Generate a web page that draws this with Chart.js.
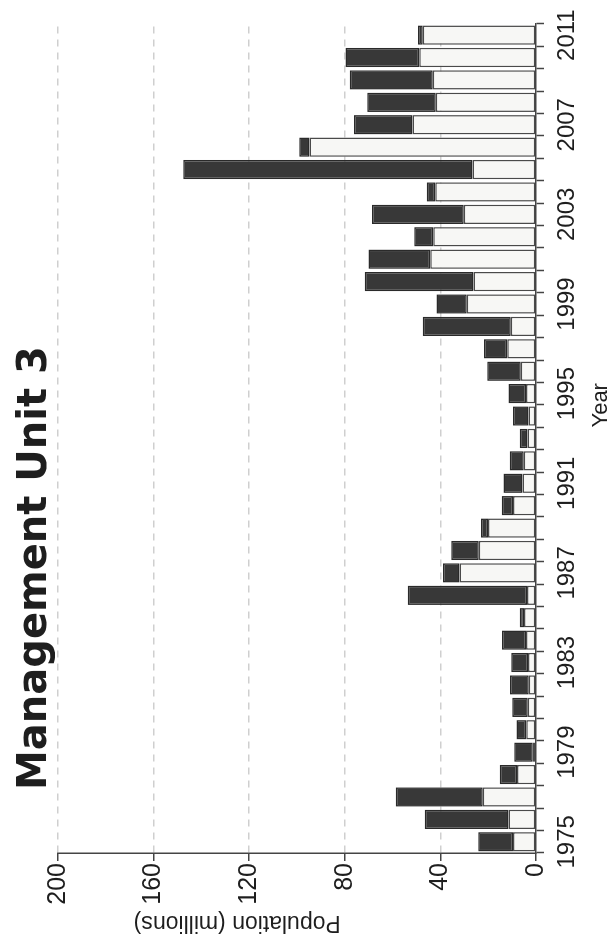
<!DOCTYPE html>
<html>
<head>
<meta charset="utf-8">
<script src="https://cdn.jsdelivr.net/npm/chart.js@4/dist/chart.umd.min.js"></script>
<style>
  html, body { margin: 0; padding: 0; background: #fff; width: 612px; height: 934px; overflow: hidden; }
  /* the figure is laid out landscape and turned a quarter turn to the left */
  #frame { position: absolute; left: 0; top: 0; width: 934px; height: 612px;
           transform-origin: 0 0; transform: translate(0, 934px) rotate(-90deg); }
</style>
</head>
<body>
<div id="frame"><canvas id="chart" width="934" height="612"></canvas></div>
<script>
// Survey years
const years = [1975,1976,1977,1978,1979,1980,1981,1982,1983,1984,1985,1986,1987,1988,1989,1990,
               1991,1992,1993,1994,1995,1996,1997,1998,1999,2000,2001,2002,2003,2004,2005,2006,
               2007,2008,2009,2010,2011];
// Lower (light) segment of each bar, millions
const lowerPart = [9.6,11.5,22.3,8.0,1.4,4.1,3.5,3.0,3.3,4.2,5.0,3.8,32.0,24.0,20.1,9.6,
                   5.6,5.1,3.6,3.1,4.2,6.4,12.0,10.6,29.0,26.2,44.2,43.0,30.2,42.2,26.6,94.8,
                   51.7,41.9,43.2,48.9,47.4];
// Upper (dark) segment stacked on top, millions
const upperPart = [14.6,35.0,36.4,7.2,7.7,4.1,6.4,7.9,7.1,10.0,1.8,49.9,6.9,11.5,2.9,4.7,
                   8.0,5.9,3.2,6.5,7.3,14.0,9.8,36.8,12.6,45.5,25.9,7.9,38.4,3.5,121.0,4.3,
                   24.5,28.7,34.7,30.8,2.0];
// Years that carry a label on the year axis
const labelledYears = [1975,1979,1983,1987,1991,1995,1999,2003,2007,2011];
// Population axis ticks
const popTicks = [0,40,80,120,160,200];

const titleText = 'Management Unit 3';
const popCaption = 'Population (millions)';
const yearCaption = 'Year';

const ink = '#1e1e1e';

// Main heading and the two axis captions
const captions = {
  id: 'captions',
  afterDraw(chart) {
    const { ctx, scales, chartArea } = chart;
    ctx.save();
    ctx.fillStyle = ink;
    ctx.font = 'bold 40px "DejaVu Sans"';
    ctx.textAlign = 'left';
    ctx.textBaseline = 'middle';
    ctx.fillText(titleText, 144, 36);

    ctx.font = '22px "Liberation Sans"';
    ctx.textAlign = 'center';
    ctx.textBaseline = 'alphabetic';
    ctx.fillText(yearCaption, chartArea.left + (chartArea.right - chartArea.left) * 0.54, 607);

    ctx.font = '23px "Liberation Sans"';
    ctx.textBaseline = 'middle';
    ctx.translate(12, scales.y.getPixelForValue(125));
    ctx.rotate(-Math.PI / 2);
    ctx.fillText(popCaption, 0, 0);
    ctx.restore();
  }
};

new Chart(document.getElementById('chart'), {
  type: 'bar',
  data: {
    labels: years.map(String),
    datasets: [
      { label: 'Lower', data: lowerPart, backgroundColor: '#f7f7f5', borderColor: '#4a4a4a',
        borderWidth: 1.5, borderSkipped: false, barPercentage: 0.86, categoryPercentage: 1 },
      { label: 'Upper', data: upperPart, backgroundColor: '#383838', borderColor: '#2a2a2a',
        borderWidth: 1.5, borderSkipped: false, barPercentage: 0.86, categoryPercentage: 1 }
    ]
  },
  options: {
    responsive: false,
    animation: false,
    devicePixelRatio: 1,
    layout: { padding: { top: 58, right: 22, left: 0, bottom: 0 } },
    plugins: { legend: { display: false }, tooltip: { enabled: false }, title: { display: false } },
    scales: {
      x: {
        stacked: true,
        offset: true,
        afterFit(s) { s.height = 76; },
        grid: { offset: true, drawOnChartArea: false, drawTicks: true, tickLength: 8,
                tickColor: '#444', tickWidth: 1.5 },
        border: { display: true, color: '#444', width: 1.5 },
        ticks: {
          autoSkip: false, maxRotation: 0, minRotation: 0, padding: 9,
          color: ink, font: { family: '"Liberation Sans"', size: 24 },
          callback(v, i) { return labelledYears.includes(years[i]) ? String(years[i]) : ''; }
        },
        title: { display: false }
      },
      y: {
        stacked: true,
        min: popTicks[0],
        max: popTicks[popTicks.length - 1],
        afterFit(s) { s.width = 81; },
        afterBuildTicks(s) { s.ticks = popTicks.map(v => ({ value: v })); },
        grid: {
          color: c => (c.tick && c.tick.value === 0) ? 'rgba(0,0,0,0)' : '#cfcfcf',
          lineWidth: 1.5, tickLength: 8, tickColor: '#444', tickWidth: 1.5
        },
        border: { display: true, color: '#444', width: 1.5, dash: [7, 6] },
        ticks: { padding: 2, color: ink, font: { family: '"Liberation Sans"', size: 25 } }
      }
    }
  },
  plugins: [captions]
});
</script>
</body>
</html>
